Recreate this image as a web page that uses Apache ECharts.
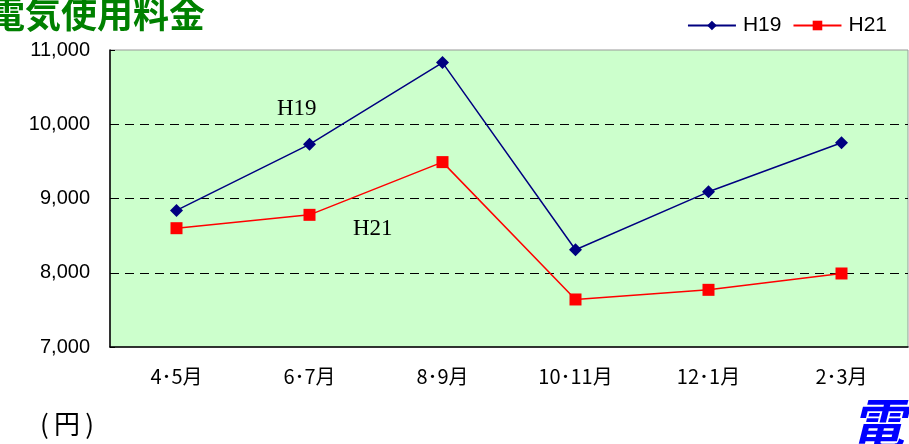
<!DOCTYPE html>
<html lang="ja">
<head>
<meta charset="UTF-8">
<title>電気使用料金</title>
<script src="https://cdn.jsdelivr.net/npm/echarts@6/dist/echarts.min.js"></script>
</head>
<body style="margin:0">
<div id="main" style="width: 909px;height:444px;"></div>
<script>
  const months = ['4･5月', '6･7月', '8･9月', '10･11月', '12･1月', '2･3月'];
  const h19 = [8840, 9730, 10830, 8310, 9090, 9750];
  const h21 = [8600, 8780, 9490, 7640, 7770, 7990];
  const yTicks = [7000, 8000, 9000, 10000, 11000];

  const myChart = echarts.init(document.getElementById('main'));
  const font = '"Noto Sans CJK JP", "Noto Sans", sans-serif';
  const sans = '"Liberation Sans", Arial, sans-serif';
  const serif = '"Liberation Serif", "Times New Roman", serif';
  const option = {
    animation: false,
    backgroundColor: '#fff',
    title: {
      text: '電気使用料金',
      left: -16,
      top: -9,
      textStyle: {color: '#008000', fontSize: 36, fontWeight: 'bold', fontFamily: font}
    },
    legend: {
      data: ['H19', 'H21'],
      right: 17,
      top: 10,
      itemWidth: 48,
      itemHeight: 12,
      itemGap: 11,
      textStyle: {fontSize: 21, color: '#000', fontFamily: sans, padding: [0, 0, 0, 2]}
    },
    grid: {
      left: 110,
      right: 1,
      top: 50,
      bottom: 97,
      show: true,
      backgroundColor: '#ccffcc',
      borderColor: '#999',
      borderWidth: 1
    },
    xAxis: {
      type: 'category',
      data: months,
      boundaryGap: true,
      axisLine: {lineStyle: {color: '#000', width: 1.5}},
      axisTick: {inside: true, length: 7, lineStyle: {color: '#000'}},
      axisLabel: {color: '#000', fontSize: 20, margin: 19, fontFamily: font}
    },
    yAxis: {
      type: 'value',
      min: yTicks[0],
      max: yTicks[yTicks.length - 1],
      interval: 1000,
      axisLine: {show: true, lineStyle: {color: '#000', width: 1.5}},
      axisTick: {show: true, inside: true, length: 5, lineStyle: {color: '#000'}},
      axisLabel: {
        color: '#000', fontSize: 20, margin: 20, fontFamily: sans,
        formatter: v => v.toLocaleString('en-US')
      },
      splitLine: {
        show: true, showMinLine: false, showMaxLine: false,
        lineStyle: {color: '#000', type: [9, 6], width: 1}
      }
    },
    graphic: [
      {type: 'text', left: 277, top: 97, style: {text: 'H19', fontSize: 23, fontFamily: serif, fill: '#000'}},
      {type: 'text', left: 353, top: 217, style: {text: 'H21', fontSize: 23, fontFamily: serif, fill: '#000'}},
      {type: 'text', left: 40, top: 411, style: {text: '(\u2009円\u2009)', fontSize: 26, fontFamily: font, fill: '#000'}},
      {type: 'text', left: 850, top: 396, style: {text: '電気', fontSize: 54, fontWeight: 'bold', fontStyle: 'italic', fontFamily: font, fill: '#0000ff', stroke: '#fff', lineWidth: 1}}
    ],
    series: [
      {
        name: 'H19',
        type: 'line',
        data: h19,
        color: '#000080',
        symbol: 'diamond',
        symbolSize: 13,
        lineStyle: {width: 1.5}
      },
      {
        name: 'H21',
        type: 'line',
        data: h21,
        color: '#ff0000',
        symbol: 'rect',
        symbolSize: 12,
        lineStyle: {width: 1.5}
      }
    ]
  };
  myChart.setOption(option);
</script>
</body>
</html>
